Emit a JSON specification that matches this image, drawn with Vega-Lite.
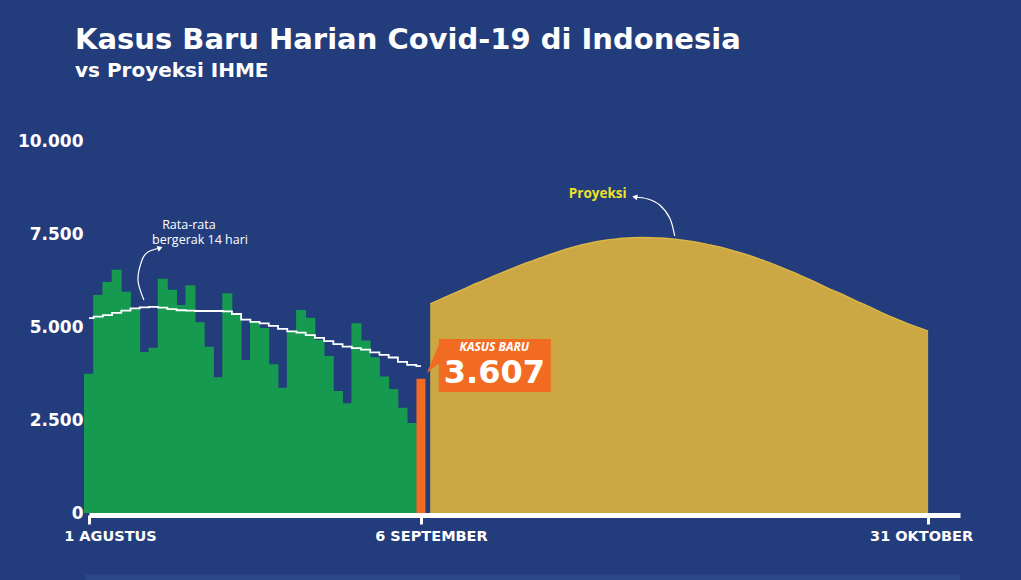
{
  "$schema": "https://vega.github.io/schema/vega-lite/v6.json",
  "width": 871,
  "height": 372,
  "autosize": {"type": "none"},
  "padding": {"left": 89, "top": 141, "right": 61, "bottom": 67},
  "background": "#233d7c",
  "config": {"view": {"stroke": null}, "font": "Open Sans"},
  "title": {
    "text": "Kasus Baru Harian Covid-19 di Indonesia",
    "subtitle": "vs Proyeksi IHME",
    "anchor": "start",
    "frame": "group",
    "dx": -14,
    "offset": 51,
    "font": "DejaVu Sans",
    "fontSize": 29,
    "fontWeight": "bold",
    "color": "#ffffff",
    "subtitleFont": "DejaVu Sans",
    "subtitleFontSize": 20,
    "subtitleFontWeight": "bold",
    "subtitleColor": "#ffffff",
    "subtitlePadding": 6
  },
  "datasets": {
    "daily": [
      {"date": "2020/08/01", "value": 3740}, {"date": "2020/08/02", "value": 5860},
      {"date": "2020/08/03", "value": 6210}, {"date": "2020/08/04", "value": 6540},
      {"date": "2020/08/05", "value": 5950}, {"date": "2020/08/06", "value": 5500},
      {"date": "2020/08/07", "value": 4330}, {"date": "2020/08/08", "value": 4440},
      {"date": "2020/08/09", "value": 6300}, {"date": "2020/08/10", "value": 6000},
      {"date": "2020/08/11", "value": 5590}, {"date": "2020/08/12", "value": 6120},
      {"date": "2020/08/13", "value": 5130}, {"date": "2020/08/14", "value": 4470},
      {"date": "2020/08/15", "value": 3650}, {"date": "2020/08/16", "value": 5910},
      {"date": "2020/08/17", "value": 5320}, {"date": "2020/08/18", "value": 4110},
      {"date": "2020/08/19", "value": 5150}, {"date": "2020/08/20", "value": 4970},
      {"date": "2020/08/21", "value": 4000}, {"date": "2020/08/22", "value": 3370},
      {"date": "2020/08/23", "value": 4900}, {"date": "2020/08/24", "value": 5460},
      {"date": "2020/08/25", "value": 5250}, {"date": "2020/08/26", "value": 4650},
      {"date": "2020/08/27", "value": 4220}, {"date": "2020/08/28", "value": 3280},
      {"date": "2020/08/29", "value": 2950}, {"date": "2020/08/30", "value": 5100},
      {"date": "2020/08/31", "value": 4640}, {"date": "2020/09/01", "value": 4190},
      {"date": "2020/09/02", "value": 3670}, {"date": "2020/09/03", "value": 3330},
      {"date": "2020/09/04", "value": 2830}, {"date": "2020/09/05", "value": 2420}
    ],
    "latest": [{"date": "2020/09/06", "value": 3607}],
    "avg": [
      {"date": "2020/08/01", "value": 5240}, {"date": "2020/08/02", "value": 5280},
      {"date": "2020/08/03", "value": 5320}, {"date": "2020/08/04", "value": 5380},
      {"date": "2020/08/05", "value": 5440}, {"date": "2020/08/06", "value": 5500},
      {"date": "2020/08/07", "value": 5530}, {"date": "2020/08/08", "value": 5540},
      {"date": "2020/08/09", "value": 5520}, {"date": "2020/08/10", "value": 5480},
      {"date": "2020/08/11", "value": 5450}, {"date": "2020/08/12", "value": 5440},
      {"date": "2020/08/13", "value": 5430}, {"date": "2020/08/14", "value": 5430},
      {"date": "2020/08/15", "value": 5430}, {"date": "2020/08/16", "value": 5420},
      {"date": "2020/08/17", "value": 5350}, {"date": "2020/08/18", "value": 5200},
      {"date": "2020/08/19", "value": 5140}, {"date": "2020/08/20", "value": 5100},
      {"date": "2020/08/21", "value": 5030}, {"date": "2020/08/22", "value": 4950},
      {"date": "2020/08/23", "value": 4880}, {"date": "2020/08/24", "value": 4850},
      {"date": "2020/08/25", "value": 4780}, {"date": "2020/08/26", "value": 4710},
      {"date": "2020/08/27", "value": 4620}, {"date": "2020/08/28", "value": 4540},
      {"date": "2020/08/29", "value": 4470}, {"date": "2020/08/30", "value": 4430},
      {"date": "2020/08/31", "value": 4390}, {"date": "2020/09/01", "value": 4320},
      {"date": "2020/09/02", "value": 4250}, {"date": "2020/09/03", "value": 4180},
      {"date": "2020/09/04", "value": 4060}, {"date": "2020/09/05", "value": 3980},
      {"date": "2020/09/06", "value": 3950}
    ],
    "proj": [
      {"date": "2020/09/07", "value": 5620}, {"date": "2020/09/08", "value": 5730},
      {"date": "2020/09/09", "value": 5840}, {"date": "2020/09/10", "value": 5950},
      {"date": "2020/09/11", "value": 6060}, {"date": "2020/09/12", "value": 6170},
      {"date": "2020/09/13", "value": 6270}, {"date": "2020/09/14", "value": 6380},
      {"date": "2020/09/15", "value": 6480}, {"date": "2020/09/16", "value": 6580},
      {"date": "2020/09/17", "value": 6680}, {"date": "2020/09/18", "value": 6770},
      {"date": "2020/09/19", "value": 6860}, {"date": "2020/09/20", "value": 6950},
      {"date": "2020/09/21", "value": 7030}, {"date": "2020/09/22", "value": 7110},
      {"date": "2020/09/23", "value": 7180}, {"date": "2020/09/24", "value": 7240},
      {"date": "2020/09/25", "value": 7290}, {"date": "2020/09/26", "value": 7330},
      {"date": "2020/09/27", "value": 7360}, {"date": "2020/09/28", "value": 7385},
      {"date": "2020/09/29", "value": 7400}, {"date": "2020/09/30", "value": 7405},
      {"date": "2020/10/01", "value": 7400}, {"date": "2020/10/02", "value": 7390},
      {"date": "2020/10/03", "value": 7370}, {"date": "2020/10/04", "value": 7345},
      {"date": "2020/10/05", "value": 7310}, {"date": "2020/10/06", "value": 7270},
      {"date": "2020/10/07", "value": 7220}, {"date": "2020/10/08", "value": 7170},
      {"date": "2020/10/09", "value": 7110}, {"date": "2020/10/10", "value": 7040},
      {"date": "2020/10/11", "value": 6970}, {"date": "2020/10/12", "value": 6890},
      {"date": "2020/10/13", "value": 6800}, {"date": "2020/10/14", "value": 6710},
      {"date": "2020/10/15", "value": 6610}, {"date": "2020/10/16", "value": 6510},
      {"date": "2020/10/17", "value": 6400}, {"date": "2020/10/18", "value": 6290},
      {"date": "2020/10/19", "value": 6180}, {"date": "2020/10/20", "value": 6060},
      {"date": "2020/10/21", "value": 5950}, {"date": "2020/10/22", "value": 5840},
      {"date": "2020/10/23", "value": 5720}, {"date": "2020/10/24", "value": 5610},
      {"date": "2020/10/25", "value": 5500}, {"date": "2020/10/26", "value": 5380},
      {"date": "2020/10/27", "value": 5270}, {"date": "2020/10/28", "value": 5170},
      {"date": "2020/10/29", "value": 5070}, {"date": "2020/10/30", "value": 4980},
      {"date": "2020/10/31", "value": 4890}
    ],
    "maArrow": [
      {"i": 1, "date": "2020/08/06 23:00", "value": 5726},
      {"i": 2, "date": "2020/08/06 07:30", "value": 6263},
      {"i": 3, "date": "2020/08/06 18:00", "value": 6801},
      {"i": 4, "date": "2020/08/07 09:30", "value": 7016},
      {"i": 5, "date": "2020/08/08 17:00", "value": 7124}
    ],
    "projArrow": [
      {"i": 1, "date": "2020/10/03 12:30", "value": 7446},
      {"i": 2, "date": "2020/10/02 23:30", "value": 7930},
      {"i": 3, "date": "2020/10/01 21:30", "value": 8280},
      {"i": 4, "date": "2020/09/30 14:30", "value": 8441},
      {"i": 5, "date": "2020/09/29 04:30", "value": 8495}
    ],
    "heads": [
      {"date": "2020/08/08 17:00", "value": 7124, "angle": 70},
      {"date": "2020/09/29 04:30", "value": 8495, "angle": 280}
    ],
    "notesSmall": [
      {"date": "2020/08/11 20:00", "value": 7740, "label": "Rata-rata"},
      {"date": "2020/08/13 01:00", "value": 7330, "label": "bergerak 14 hari"}
    ],
    "notesProj": [
      {"date": "2020/09/25 04:00", "value": 8575, "label": "Proyeksi"}
    ],
    "box": [
      {"date": "2020/09/07 22:30", "date2": "2020/09/20 02:00", "value": 4677, "value2": 3253}
    ],
    "pointer": [
      {"date": "2020/09/06 15:20", "value": 3763, "value2": 3763},
      {"date": "2020/09/08 04:00", "value": 4650, "value2": 4059}
    ],
    "boxHead": [{"date": "2020/09/13 23:00", "value": 4470, "label": "KASUS BARU"}],
    "boxNum": [{"date": "2020/09/13 23:00", "value": 3760, "label": "3.607"}],
    "band": [
      {"date": "2020/07/31 15:00", "date2": "2020/11/03 11:00", "value": -1650, "value2": -2300}
    ]
  },
  "encoding": {
    "x": {
      "field": "date", "type": "temporal",
      "scale": {"domain": [{"year": 2020, "month": 8, "date": 1}, {"year": 2020, "month": 11, "date": 3, "hours": 11}], "padding": 0, "nice": false},
      "axis": {
        "values": [{"year": 2020, "month": 8, "date": 1}, {"year": 2020, "month": 9, "date": 6}, {"year": 2020, "month": 10, "date": 31}],
        "labelExpr": "month(datum.value) == 7 ? '1 AGUSTUS' : month(datum.value) == 8 ? '6 SEPTEMBER' : '31 OKTOBER'",
        "labelOffset": {"condition": [{"test": "month(datum.value) == 7", "value": 21}, {"test": "month(datum.value) == 8", "value": 10}], "value": -7},
        "title": null,
        "grid": false,
        "domainColor": "#ffffff",
        "domainWidth": 5,
        "tickColor": "#ffffff",
        "tickWidth": 3,
        "tickSize": 9,
        "labelColor": "#ffffff",
        "labelFont": "DejaVu Sans",
        "labelFontWeight": "bold",
        "labelFontSize": 14.5,
        "labelPadding": 5,
        "labelFlush": false,
        "labelOverlap": false,
        "offset": 2
      }
    },
    "y": {
      "field": "value", "type": "quantitative",
      "scale": {"domain": [0, 10000], "nice": false},
      "axis": {
        "values": [0, 2500, 5000, 7500, 10000],
        "labelExpr": "replace(format(datum.value, ','), ',', '.')",
        "title": null,
        "grid": false,
        "domain": false,
        "ticks": false,
        "labelColor": "#ffffff",
        "labelFont": "DejaVu Sans",
        "labelFontWeight": "bold",
        "labelFontSize": 17,
        "labelPadding": 6
      }
    }
  },
  "layer": [
    {
      "data": {"name": "band"},
      "mark": {"type": "rect", "color": "#2d4887"},
      "encoding": {"x2": {"field": "date2"}, "y2": {"field": "value2"}}
    },
    {
      "data": {"name": "proj"},
      "mark": {"type": "area", "color": "#cba843", "opacity": 1, "interpolate": "monotone", "line": {"color": "#dbb646", "strokeWidth": 1.5}}
    },
    {
      "data": {"name": "daily"},
      "mark": {"type": "bar", "color": "#169a50", "width": 10}
    },
    {
      "data": {"name": "latest"},
      "mark": {"type": "bar", "color": "#f26b22", "width": 9}
    },
    {
      "data": {"name": "avg"},
      "mark": {"type": "line", "color": "#ffffff", "strokeWidth": 1.8, "interpolate": "step"}
    },
    {
      "data": {"name": "maArrow"},
      "mark": {"type": "line", "color": "#ffffff", "strokeWidth": 1.2, "interpolate": "cardinal"},
      "encoding": {"order": {"field": "i"}}
    },
    {
      "data": {"name": "projArrow"},
      "mark": {"type": "line", "color": "#ffffff", "strokeWidth": 1.2, "interpolate": "cardinal"},
      "encoding": {"order": {"field": "i"}}
    },
    {
      "data": {"name": "heads"},
      "mark": {"type": "point", "shape": "triangle-up", "filled": true, "color": "#ffffff", "size": 35, "opacity": 1},
      "encoding": {"angle": {"field": "angle", "type": "quantitative", "scale": null}}
    },
    {
      "data": {"name": "notesSmall"},
      "mark": {"type": "text", "color": "#ffffff", "font": "Open Sans", "fontSize": 12.5, "align": "center", "baseline": "middle"},
      "encoding": {"text": {"field": "label"}}
    },
    {
      "data": {"name": "notesProj"},
      "mark": {"type": "text", "color": "#ece226", "font": "Open Sans", "fontWeight": "bold", "fontSize": 13.5, "align": "center", "baseline": "middle"},
      "encoding": {"text": {"field": "label"}}
    },
    {
      "data": {"name": "pointer"},
      "mark": {"type": "area", "color": "#f26b22", "opacity": 1},
      "encoding": {"y2": {"field": "value2"}}
    },
    {
      "data": {"name": "box"},
      "mark": {"type": "rect", "color": "#f26b22"},
      "encoding": {"x2": {"field": "date2"}, "y2": {"field": "value2"}}
    },
    {
      "data": {"name": "boxHead"},
      "mark": {"type": "text", "color": "#ffffff", "font": "Open Sans", "fontWeight": "bold", "fontStyle": "italic", "fontSize": 12, "align": "center", "baseline": "middle"},
      "encoding": {"text": {"field": "label"}}
    },
    {
      "data": {"name": "boxNum"},
      "mark": {"type": "text", "color": "#ffffff", "font": "DejaVu Sans", "fontWeight": "bold", "fontSize": 32, "align": "center", "baseline": "middle"},
      "encoding": {"text": {"field": "label"}}
    }
  ]
}
